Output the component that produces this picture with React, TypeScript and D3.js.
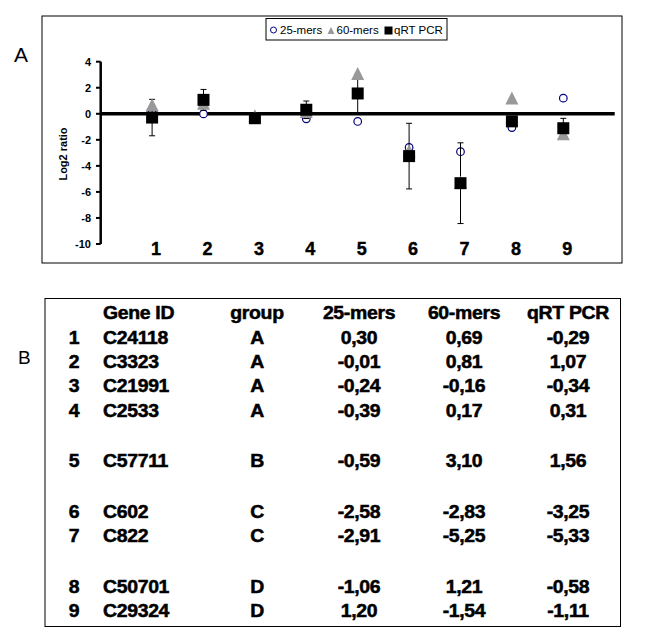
import React from "react";
import * as d3 from "d3";

const genes = [1, 2, 3, 4, 5, 6, 7, 8, 9];
const geneIds = ["C24118", "C3323", "C21991", "C2533", "C57711", "C602", "C822", "C50701", "C29324"];
const groups = ["A", "A", "A", "A", "B", "C", "C", "D", "D"];
const mers25 = [0.3, -0.01, -0.24, -0.39, -0.59, -2.58, -2.91, -1.06, 1.2];
const mers60 = [0.69, 0.81, -0.16, 0.17, 3.1, -2.83, -5.25, 1.21, -1.54];
const qrtPcr = [-0.29, 1.07, -0.34, 0.31, 1.56, -3.25, -5.33, -0.58, -1.11];
const qrtErr = [1.4, 0.8, 0.2, 0.67, 1.5, 2.52, 3.1, 0.3, 0.76];
const yTicks = [4, 2, 0, -2, -4, -6, -8, -10];
const seriesNames = ["25-mers", "60-mers", "qRT PCR"];
const tableHeaders = ["Gene ID", "group", "25-mers", "60-mers", "qRT PCR"];

const FONT = "'Liberation Sans', Arial, sans-serif";
const fmt = (v: number) => v.toFixed(2).replace(".", ",");

export default function App() {
  const W = 666, H = 638;
  const x = d3.scalePoint<number>().domain(genes).range([100.7, 614.7]).padding(1);
  const y = d3.scaleLinear().domain([-10, 4]).range([244, 61.7]);
  const tri = (cx: number, cy: number, s: number) =>
    `M${cx},${cy - s / 2}L${cx + s / 2},${cy + s / 2}L${cx - s / 2},${cy + s / 2}Z`;

  // table rows
  const groupOrder = Array.from(new Set(groups));
  const rowY = (i: number) => 344 + i * 24.2 + groupOrder.indexOf(groups[i]) * 26.4;
  const colX = { num: 74, id: 103, group: 257, m25: 359, m60: 464, qrt: 568 };
  const T = (tx: number, ty: number, s: string, anchor: string, key: string) => (
    <g key={key} transform={`translate(${tx},${ty}) scale(1.08,1)`}>
      <text
        textAnchor={anchor as any}
        fontFamily={FONT}
        fontWeight="bold"
        fontSize={18}
        fill="#000"
        stroke="#000"
        strokeWidth={0.5}
        letterSpacing={-0.3}
      >
        {s}
      </text>
    </g>
  );

  return (
    <svg width={W} height={H} style={{ position: "absolute", left: 0, top: 0, background: "#fff" }}>
      <rect x={0} y={0} width={W} height={H} fill="#fff" />
      {/* Panel A */}
      <text x={14} y={62} fontFamily={FONT} fontSize={21}>A</text>
      <rect x={42} y={16} width={580} height={247} fill="none" stroke="#000" strokeWidth={1} />

      {/* legend */}
      <rect x={266} y={18.5} width={181} height={21.5} fill="#fff" stroke="#000" strokeWidth={1} />
      <circle cx={273.5} cy={30} r={3} fill="#fff" stroke="#000080" strokeWidth={1} />
      <text x={280} y={34} fontFamily={FONT} fontSize={11.5}>{seriesNames[0]}</text>
      <path d={tri(331, 30.5, 7)} fill="#999" />
      <text x={336.5} y={34} fontFamily={FONT} fontSize={11.5}>{seriesNames[1]}</text>
      <rect x={384.5} y={26.5} width={8} height={8} fill="#000" />
      <text x={394} y={34} fontFamily={FONT} fontSize={11.5}>{seriesNames[2]}</text>

      {/* y axis */}
      <line x1={100.7} x2={100.7} y1={y(4)} y2={y(-10)} stroke="#000" strokeWidth={2.5} />
      {yTicks.map((t) => (
        <g key={t}>
          <line x1={96} x2={100.7} y1={y(t)} y2={y(t)} stroke="#000" strokeWidth={2} />
          <text x={91} y={y(t) + 4} textAnchor="end" fontFamily={FONT} fontWeight="bold" fontSize={11}>
            {t}
          </text>
        </g>
      ))}
      <text
        transform={`translate(67,154) rotate(-90)`}
        textAnchor="middle"
        fontFamily={FONT}
        fontWeight="bold"
        fontSize={11}
      >
        Log2 ratio
      </text>

      {/* zero line */}
      <line x1={100.7} x2={614.7} y1={y(0)} y2={y(0)} stroke="#000" strokeWidth={3.5} />

      {/* 25-mers circles */}
      {genes.map((g, i) => (
        <circle key={"c" + g} cx={x(g)!} cy={y(mers25[i])} r={3.8} fill="#fff" stroke="#000080" strokeWidth={1.2} />
      ))}
      {/* error bars */}
      {genes.map((g, i) => {
        const cx = x(g)!;
        const top = y(qrtPcr[i] + qrtErr[i]);
        const bot = y(qrtPcr[i] - qrtErr[i]);
        return (
          <g key={"e" + g} stroke="#000" strokeWidth={1}>
            <line x1={cx} x2={cx} y1={top} y2={bot} />
            <line x1={cx - 3} x2={cx + 3} y1={top} y2={top} />
            <line x1={cx - 3} x2={cx + 3} y1={bot} y2={bot} />
          </g>
        );
      })}
      {/* 60-mers triangles */}
      {genes.map((g, i) => (
        <path key={"t" + g} d={tri(x(g)!, y(mers60[i]), 13)} fill="#999" />
      ))}
      {/* qRT PCR squares */}
      {genes.map((g, i) => (
        <rect key={"s" + g} x={x(g)! - 6} y={y(qrtPcr[i]) - 6} width={12} height={12} fill="#000" />
      ))}

      {/* category labels */}
      {genes.map((g) => (
        <text
          key={"l" + g}
          x={x(g)! + 4}
          y={255}
          textAnchor="middle"
          fontFamily={FONT}
          fontWeight="bold"
          fontSize={18}
          stroke="#000"
          strokeWidth={0.4}
        >
          {g}
        </text>
      ))}

      {/* Panel B */}
      <text x={18} y={364} fontFamily={FONT} fontSize={19}>B</text>
      <rect x={45} y={298.5} width={575.5} height={328} fill="none" stroke="#000" strokeWidth={1} />
      {T(colX.id, 319, tableHeaders[0], "start", "h0")}
      {T(colX.group, 319, tableHeaders[1], "middle", "h1")}
      {T(colX.m25, 319, tableHeaders[2], "middle", "h2")}
      {T(colX.m60, 319, tableHeaders[3], "middle", "h3")}
      {T(colX.qrt, 319, tableHeaders[4], "middle", "h4")}
      {genes.map((g, i) => (
        <g key={"r" + g}>
          {T(colX.num, rowY(i), String(g), "middle", "n")}
          {T(colX.id, rowY(i), geneIds[i], "start", "id")}
          {T(colX.group, rowY(i), groups[i], "middle", "g")}
          {T(colX.m25, rowY(i), fmt(mers25[i]), "middle", "a")}
          {T(colX.m60, rowY(i), fmt(mers60[i]), "middle", "b")}
          {T(colX.qrt, rowY(i), fmt(qrtPcr[i]), "middle", "c")}
        </g>
      ))}
    </svg>
  );
}
